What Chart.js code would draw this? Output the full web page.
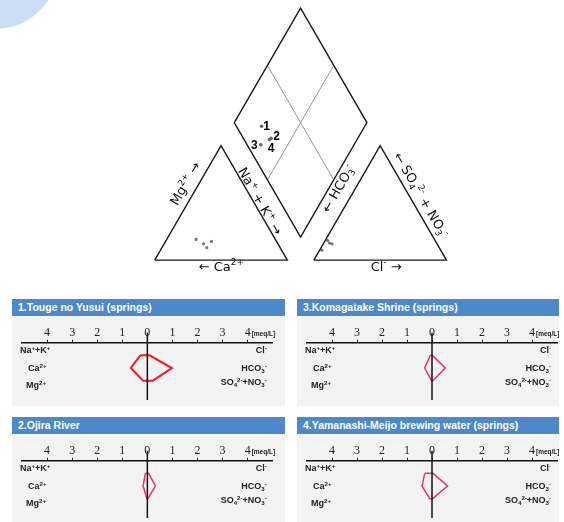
<!DOCTYPE html>
<html>
<head>
<meta charset="utf-8">
<script src="https://cdn.jsdelivr.net/npm/chart.js@4.4.0/dist/chart.umd.min.js"></script>
<style>
  html, body { margin: 0; padding: 0; background: #fff; }
  body { width: 564px; height: 522px; position: relative; overflow: hidden; font-family: 'Liberation Sans', Arial, sans-serif; }
  .abs { position: absolute; }
  #bubble { left: -69px; top: -99px; width: 128px; height: 128px; border-radius: 50%; background: #cadef6; }
  .head { height: 17px; line-height: 17px; background: #4d88c9; color: #fff; font-weight: bold; font-size: 10.5px; padding-left: 6px; box-sizing: border-box; white-space: nowrap; }
  .body { height: 90px; background: #f3f3f3; }
</style>
</head>
<body>
<div id="bubble" class="abs"></div>
<div class="abs" style="left:140px;top:0;width:320px;height:290px"><canvas id="piper"></canvas></div>

<div class="abs head" style="left:12px;top:299px;width:273px">1.Touge no Yusui (springs)</div>
<div class="abs body" style="left:12px;top:316px;width:273px"><canvas id="stiff0"></canvas></div>
<div class="abs head" style="left:297px;top:299px;width:262px">3.Komagatake Shrine (springs)</div>
<div class="abs body" style="left:297px;top:316px;width:262px"><canvas id="stiff2"></canvas></div>
<div class="abs head" style="left:12px;top:417px;width:273px">2.Ojira River</div>
<div class="abs body" style="left:12px;top:434px;width:273px"><canvas id="stiff1"></canvas></div>
<div class="abs head" style="left:297px;top:417px;width:262px">4.Yamanashi-Meijo brewing water (springs)</div>
<div class="abs body" style="left:297px;top:434px;width:262px"><canvas id="stiff3"></canvas></div>

<script>
// piper diagram, % of meq
const samples = ['1', '2', '3', '4'];
const caPct   = [59.8, 49.1, 56.1, 55.3];
const mgPct   = [18.0, 16.3, 14.2, 10.8];
const naKPct  = [22.2, 34.6, 29.7, 33.9];
const hco3Pct = [81.0, 79.2, 89.6, 80.8];
const clPct   = [1.9, 6.6, 1.8, 4.4];
const so4Pct  = [17.1, 14.2, 8.6, 14.8];

// stiff diagrams, meq/L
const stations = ['1.Touge no Yusui (springs)', '2.Ojira River', '3.Komagatake Shrine (springs)', '4.Yamanashi-Meijo brewing water (springs)'];
const naK  = [0.28, 0.08, 0.07, 0.29];
const ca   = [0.66, 0.17, 0.29, 0.40];
const mg   = [0.17, 0.02, 0.02, 0.09];
const cl   = [0.09, 0.05, 0.01, 0.04];
const hco3 = [0.98, 0.32, 0.53, 0.62];
const so4  = [0.22, 0.02, 0.03, 0.02];
const axisTicks = [-4, -3, -2, -1, 0, 1, 2, 3, 4];
// ^{..} superscript, _{..} subscript
const leftIons  = ['Na^{+}+K^{+}', 'Ca^{2+}', 'Mg^{2+}'];
const rightIons = ['Cl^{-}', 'HCO_{3}^{-}', 'SO_{4}^{2-}+NO_{3}^{-}'];

// piper geometry (side 100, gap between triangles)
const GAP = 20, H = Math.sqrt(3) / 2;
const cationXY = (c, m, n) => ({ x: n + m / 2, y: m * H });
const anionXY = (h, c, s) => ({ x: 100 + GAP + c + s / 2, y: s * H });
const diamondXY = (n, a) => {
  const x1 = n, x2 = 100 + GAP + a;
  return { x: (x1 + x2) / 2, y: (x2 - x1) * H };
};

// split markup into [text, mode] pieces, mode 0 normal, 1 sup, -1 sub
function pieces(str) {
  const out = [];
  const re = /([\^_])\{([^}]*)\}/g;
  let last = 0, m;
  while ((m = re.exec(str))) {
    if (m.index > last) out.push([str.slice(last, m.index), 0]);
    out.push([m[2], m[1] === '^' ? 1 : -1]);
    last = re.lastIndex;
  }
  if (last < str.length) out.push([str.slice(last), 0]);
  return out;
}

// draw rich text; align 'left' | 'center' | 'right', baseline middle
function richText(ctx, str, x, y, size, family, weight, align) {
  const ps = pieces(str);
  const small = size * 0.68;
  const fontOf = md => `${weight} ${md ? small : size}px ${family}`;
  let w = 0;
  ps.forEach(p => { ctx.font = fontOf(p[1]); w += ctx.measureText(p[0]).width; });
  let cx = align === 'center' ? x - w / 2 : align === 'right' ? x - w : x;
  ctx.textAlign = 'left';
  ctx.textBaseline = 'middle';
  ps.forEach(p => {
    ctx.font = fontOf(p[1]);
    const dy = p[1] === 1 ? -size * 0.32 : p[1] === -1 ? size * 0.28 : 0;
    ctx.fillText(p[0], cx, y + dy);
    cx += ctx.measureText(p[0]).width;
  });
}

const outline = (pts, color, w) => ({
  data: pts, showLine: true, pointRadius: 0, borderColor: color, borderWidth: w, fill: false
});

const piperText = {
  id: 'piperText',
  afterDatasetsDraw(chart) {
    const { ctx, scales: { x, y } } = chart;
    const put = (txt, px, py, rot) => {
      ctx.save();
      ctx.translate(x.getPixelForValue(px), y.getPixelForValue(py));
      ctx.rotate(rot * Math.PI / 180);
      ctx.fillStyle = '#111';
      richText(ctx, txt, 0, 0, 13, '"DejaVu Sans", sans-serif', 'normal', 'center');
      ctx.restore();
    };
    put('Mg^{2+} →', 23.75, 57.6, -60);
    put('Na^{+} + K^{+} →', 78.9, 44.1, 60);
    put('← Ca^{2+}', 50.2, -5.4, 0);
    put('← HCO_{3}^{-}', 139, 53.9, -60);
    put('← SO_{4}^{2-} + NO_{3}^{-}', 200.2, 49, 60);
    put('Cl^{-} →', 174.5, -5.4, 0);

    // sample numbers next to the diamond points
    const offs = [[5, 0], [5.5, -1.5], [-6.5, 1], [1.5, 9]];
    ctx.save();
    ctx.font = 'bold 12px "Liberation Sans", Arial, sans-serif';
    ctx.fillStyle = '#000';
    ctx.textAlign = 'center';
    ctx.textBaseline = 'middle';
    samples.forEach((s, i) => {
      const p = diamondXY(naKPct[i], clPct[i] + so4Pct[i]);
      ctx.fillText(s, x.getPixelForValue(p.x) + offs[i][0], y.getPixelForValue(p.y) + offs[i][1]);
    });
    ctx.restore();
  }
};

new Chart(document.getElementById('piper'), {
  type: 'scatter',
  data: {
    datasets: [
      outline([cationXY(100, 0, 0), cationXY(0, 0, 100), cationXY(0, 100, 0), cationXY(100, 0, 0)], '#1a1a1a', 1.4),
      outline([anionXY(100, 0, 0), anionXY(0, 100, 0), anionXY(0, 0, 100), anionXY(100, 0, 0)], '#1a1a1a', 1.4),
      outline([diamondXY(0, 0), diamondXY(0, 100), diamondXY(100, 100), diamondXY(100, 0), diamondXY(0, 0)], '#1a1a1a', 1.4),
      outline([diamondXY(50, 0), diamondXY(50, 100)], '#8a8a8a', 0.9),
      outline([diamondXY(0, 50), diamondXY(100, 50)], '#8a8a8a', 0.9),
      { data: samples.map((s, i) => cationXY(caPct[i], mgPct[i], naKPct[i])), pointRadius: 1.6, backgroundColor: '#777', borderWidth: 0 },
      { data: samples.map((s, i) => anionXY(hco3Pct[i], clPct[i], so4Pct[i])), pointRadius: 1.6, backgroundColor: '#777', borderWidth: 0 },
      { data: samples.map((s, i) => diamondXY(naKPct[i], clPct[i] + so4Pct[i])), pointRadius: 1.8, backgroundColor: '#666', borderWidth: 0 }
    ]
  },
  options: {
    responsive: true, maintainAspectRatio: false, animation: false,
    layout: { padding: 0 },
    plugins: { legend: { display: false }, tooltip: { enabled: false } },
    scales: {
      x: { type: 'linear', display: false, min: -8.09, max: 227.2 },
      y: { type: 'linear', display: false, min: -19.6, max: 193.6 }
    }
  },
  plugins: [piperText]
});

const stiffText = {
  id: 'stiffText',
  afterDraw(chart) {
    const { ctx, chartArea: a, scales: { x } } = chart;
    const x0 = x.getPixelForValue(0);
    ctx.save();
    ctx.strokeStyle = '#111';
    ctx.lineWidth = 1.5;
    ctx.beginPath();
    ctx.moveTo(x0, a.top - 10);
    ctx.lineTo(x0, a.bottom - 6);
    ctx.stroke();

    ctx.fillStyle = '#222';
    const fam = '"Liberation Sans", Arial, sans-serif';
    const lx = [-2, 6, 4], ly = [8, 26, 43], ry = [8, 26, 40];
    leftIons.forEach((t, i) => richText(ctx, t, a.left + lx[i], a.top + ly[i], 9, fam, 'bold', 'left'));
    rightIons.forEach((t, i) => richText(ctx, t, a.right - 6, a.top + ry[i], 9, fam, 'bold', 'right'));

    ctx.textAlign = 'left';
    ctx.textBaseline = 'middle';
    ctx.font = 'bold 6.5px ' + fam;
    ctx.fillText('[meq/L]', x.getPixelForValue(4) + 4, a.top - 8);
    ctx.restore();
  }
};

function stiff(i, color, width, padRight) {
  new Chart(document.getElementById('stiff' + i), {
    type: 'scatter',
    data: {
      datasets: [{
        label: stations[i],
        data: [
          { x: -naK[i], y: 0 }, { x: cl[i], y: 0 }, { x: hco3[i], y: 1 }, { x: so4[i], y: 2 },
          { x: -mg[i], y: 2 }, { x: -ca[i], y: 1 }, { x: -naK[i], y: 0 }
        ],
        showLine: true, pointRadius: 0, borderColor: color, borderWidth: width, fill: false
      }]
    },
    options: {
      responsive: true, maintainAspectRatio: false, animation: false,
      layout: { padding: { left: 10, right: padRight, top: 6.7, bottom: 0 } },
      plugins: { legend: { display: false }, tooltip: { enabled: false } },
      scales: {
        x: {
          type: 'linear', position: 'top', min: -5, max: 5,
          afterBuildTicks: s => { s.ticks = axisTicks.map(v => ({ value: v })); },
          afterFit: s => { s.height = 20; },
          ticks: {
            callback: v => Math.abs(v), color: '#222', padding: 0, maxRotation: 0, autoSkip: false,
            font: { family: '"Liberation Serif", "Times New Roman", serif', size: 12 }
          },
          grid: { drawOnChartArea: false, drawTicks: true, tickLength: 3, color: '#222' },
          border: { color: '#111', width: 1.5 }
        },
        y: { type: 'linear', display: false, min: -1, max: 4, reverse: true }
      }
    },
    plugins: [stiffText]
  });
}

stiff(0, '#ee1c25', 2, 12.3);
stiff(1, '#e8336f', 1.5, 12.3);
stiff(2, '#e8336f', 1.5, 2);
stiff(3, '#e8336f', 1.5, 2);
</script>
</body>
</html>
